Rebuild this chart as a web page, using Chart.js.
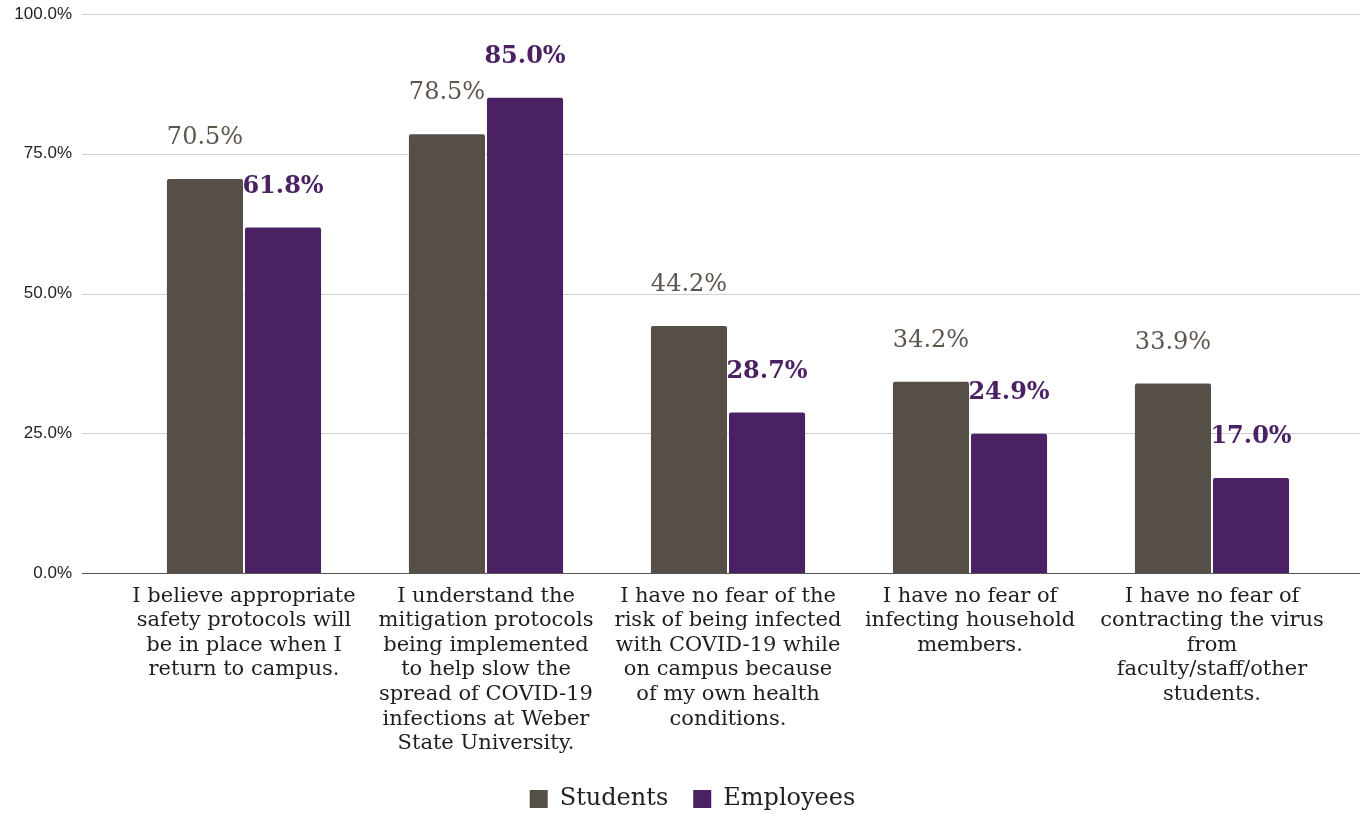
<!DOCTYPE html>
<html>
<head>
<meta charset="utf-8">
<script src="https://cdn.jsdelivr.net/npm/chart.js@4.4.0/dist/chart.umd.min.js"></script>
<style>
  html, body { margin: 0; padding: 0; background: #fff; }
  #wrap { width: 1360px; height: 814px; }
</style>
</head>
<body>
<div id="wrap"><canvas id="myChart"></canvas></div>
<script>
// categories (x labels, already split into lines)
const categories = [
  ["I believe appropriate", "safety protocols will", "be in place when I", "return to campus."],
  ["I understand the", "mitigation protocols", "being implemented", "to help slow the", "spread of COVID-19", "infections at Weber", "State University."],
  ["I have no fear of the", "risk of being infected", "with COVID-19 while", "on campus because", "of my own health", "conditions."],
  ["I have no fear of", "infecting household", "members."],
  ["I have no fear of", "contracting the virus", "from", "faculty/staff/other", "students."]
];
const seriesNames = ["Students", "Employees"];
const studentValues = [70.5, 78.5, 44.2, 34.2, 33.9];
const employeeValues = [61.8, 85.0, 28.7, 24.9, 17.0];
const yMin = 0;
const yMax = 100;
const yStep = 25;

const studentColor = '#564f47';
const employeeColor = '#4a2263';

// horizontal grid lines run the full width, like the original
const gridPlugin = {
  id: 'fullGrid',
  beforeDatasetsDraw(chart) {
    const ctx = chart.ctx;
    const y = chart.scales.y;
    ctx.save();
    for (const t of y.ticks) {
      const py = Math.round(y.getPixelForValue(t.value)) + 0.5;
      ctx.strokeStyle = t.value === 0 ? '#555' : '#cfcfcf';
      ctx.lineWidth = 1;
      ctx.beginPath();
      ctx.moveTo(82, py);
      ctx.lineTo(chart.width, py);
      ctx.stroke();
    }
    ctx.restore();
  }
};

// value labels above bars
const labelPlugin = {
  id: 'valueLabels',
  afterLayout(chart) {
    // legend sits a bit right of the canvas centre in the original
    chart.legend.left += 26;
    chart.legend.right += 26;
  },
  afterDatasetsDraw(chart) {
    const ctx = chart.ctx;
    ctx.save();
    ctx.textAlign = 'center';
    ctx.textBaseline = 'middle';
    chart.data.datasets.forEach(function(ds, i) {
      const meta = chart.getDatasetMeta(i);
      meta.data.forEach(function(bar, j) {
        if (i === 0) {
          ctx.font = '24px "DejaVu Serif"';
          ctx.fillStyle = '#5e564d';
        } else {
          ctx.font = 'bold 24px "DejaVu Serif"';
          ctx.fillStyle = employeeColor;
        }
        ctx.fillText(ds.data[j].toFixed(1) + '%', bar.x, bar.y - 41);
      });
    });
    ctx.restore();
  }
};

var chartdata = {
  labels: categories,
  datasets: [
    {
      label: seriesNames[0],
      data: studentValues,
      backgroundColor: studentColor,
      borderRadius: 2,
      borderSkipped: 'bottom',
      categoryPercentage: 0.645,
      barPercentage: 0.975
    },
    {
      label: seriesNames[1],
      data: employeeValues,
      backgroundColor: employeeColor,
      borderRadius: 2,
      borderSkipped: 'bottom',
      categoryPercentage: 0.645,
      barPercentage: 0.975
    }
  ]
};

var ctx = document.getElementById("myChart").getContext("2d");

var BarGraph = new Chart(ctx, {
  type: 'bar',
  data: chartdata,
  plugins: [gridPlugin, labelPlugin],
  options: {
    responsive: true,
    maintainAspectRatio: false,
    animation: false,
    layout: { padding: { top: 14, right: 27, bottom: 0, left: 0 } },
    plugins: {
      tooltip: { enabled: false },
      legend: {
        position: 'bottom',
        maxHeight: 52,
        labels: {
          boxWidth: 18,
          boxHeight: 18,
          padding: 25,
          color: '#222',
          font: { family: '"DejaVu Serif"', size: 24 }
        }
      }
    },
    scales: {
      x: {
        grid: { display: false, drawTicks: false },
        border: { display: false },
        afterFit: function(scale) { scale.height = 189; },
        ticks: {
          autoSkip: false,
          maxRotation: 0,
          minRotation: 0,
          padding: 11,
          color: '#1e1e1e',
          font: { family: '"DejaVu Serif"', size: 21, lineHeight: 1.17 }
        }
      },
      y: {
        min: yMin,
        max: yMax,
        grid: { display: false, drawTicks: false },
        border: { display: false },
        afterFit: function(scale) {
          scale.width = 123;
          // tick padding is only meant to push labels left, not down
          scale.paddingTop = 10;
          scale.paddingBottom = 10;
        },
        ticks: {
          stepSize: yStep,
          padding: 51,
          color: '#222',
          font: { family: '"Liberation Sans"', size: 17 },
          callback: function(v) { return v.toFixed(1) + '%'; }
        }
      }
    }
  }
});
</script>
</body>
</html>
